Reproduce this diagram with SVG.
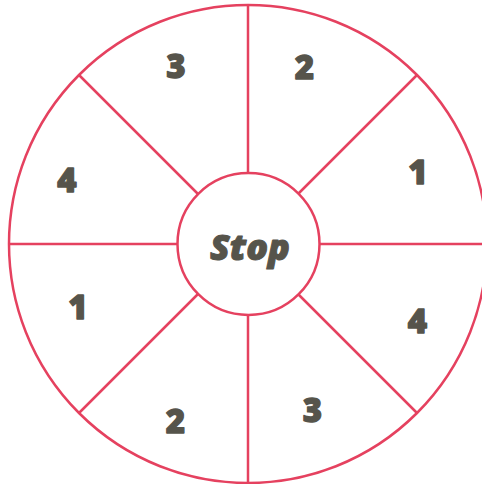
<svg xmlns="http://www.w3.org/2000/svg" width="482" height="484" viewBox="0 0 482 484">
<style>
.ln{stroke:#e5415f;stroke-width:2.5;fill:none}
.num{font-family:"Open Sans","Liberation Sans",sans-serif;font-weight:800;font-size:33px;fill:#56544b;stroke:#56544b;stroke-width:1.3;stroke-linejoin:round;text-anchor:middle}
.stop{font-family:"Open Sans","Liberation Sans",sans-serif;font-weight:800;font-style:italic;font-size:36px;fill:#56544b;stroke:#56544b;stroke-width:1;stroke-linejoin:round;text-anchor:middle}
</style>
<rect width="482" height="484" fill="#ffffff"/>
<g id="connectors">
<circle class="ln" cx="248" cy="244" r="239"/>
<line class="ln" x1="248" y1="5" x2="248" y2="173"/>
<line class="ln" x1="248" y1="315" x2="248" y2="483"/>
<line class="ln" x1="9" y1="244" x2="177" y2="244"/>
<line class="ln" x1="319" y1="244" x2="487" y2="244"/>
<line class="ln" x1="79" y1="75" x2="198" y2="194"/>
<line class="ln" x1="298" y1="294" x2="417" y2="413"/>
<line class="ln" x1="417" y1="75" x2="298" y2="194"/>
<line class="ln" x1="198" y1="294" x2="79" y2="413"/>
</g>
<g id="center">
<circle class="ln" cx="248.5" cy="244" r="71" fill="#ffffff"/>
<text class="stop" x="250" y="260">Stop</text>
</g>
<g id="seg-top-left"><text class="num" x="176" y="78">3</text></g>
<g id="seg-top-right"><text class="num" x="304.5" y="78.5">2</text></g>
<g id="seg-right-top"><text class="num" x="418" y="183.5">1</text></g>
<g id="seg-right-bottom"><text class="num" x="417.5" y="333">4</text></g>
<g id="seg-bottom-right"><text class="num" x="312.5" y="422">3</text></g>
<g id="seg-bottom-left"><text class="num" x="175.5" y="432.5">2</text></g>
<g id="seg-left-bottom"><text class="num" x="78" y="318.5">1</text></g>
<g id="seg-left-top"><text class="num" x="67" y="192">4</text></g>
</svg>
